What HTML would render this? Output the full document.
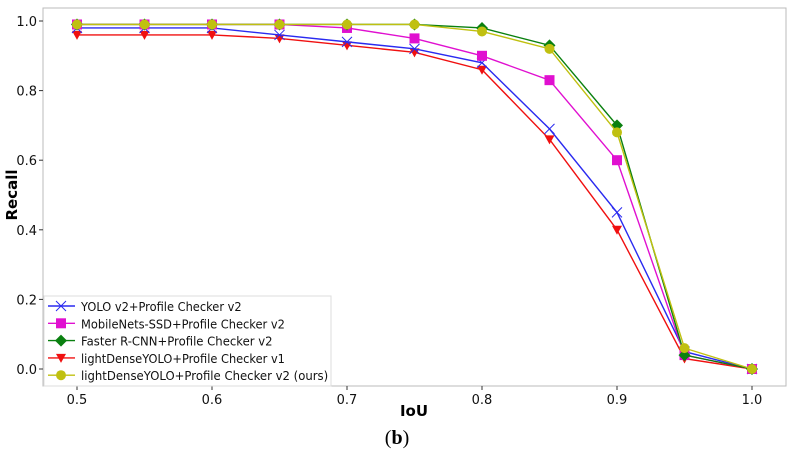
<!DOCTYPE html>
<html><head><meta charset="utf-8"><style>
body{margin:0;background:#fff;width:793px;height:454px;overflow:hidden}
svg{font-family:"DejaVu Sans","Liberation Sans",sans-serif}
</style></head><body>
<svg id="c" width="793" height="454"></svg>
<script>
const xVals=[0.5,0.55,0.6,0.65,0.7,0.75,0.8,0.85,0.9,0.95,1.0];
const yolo=[0.98,0.98,0.98,0.96,0.94,0.92,0.88,0.69,0.45,0.05,0.0];
const mobile=[0.99,0.99,0.99,0.99,0.98,0.95,0.90,0.83,0.60,0.04,0.0];
const faster=[0.99,0.99,0.99,0.99,0.99,0.99,0.98,0.93,0.70,0.04,0.0];
const ldv1=[0.96,0.96,0.96,0.95,0.93,0.91,0.86,0.66,0.40,0.03,0.0];
const ldv2=[0.99,0.99,0.99,0.99,0.99,0.99,0.97,0.92,0.68,0.06,0.0];
const xTicks=[0.5,0.6,0.7,0.8,0.9,1.0];
const yTicks=[0.0,0.2,0.4,0.6,0.8,1.0];
const names=["YOLO v2+Profile Checker v2","MobileNets-SSD+Profile Checker v2","Faster R-CNN+Profile Checker v2","lightDenseYOLO+Profile Checker v1","lightDenseYOLO+Profile Checker v2 (ours)"];
const NS="http://www.w3.org/2000/svg",svg=document.getElementById('c');
const X=v=>77+(v-0.5)*1350, Y=v=>369-v*348;
function el(t,a,p){const e=document.createElementNS(NS,t);for(const k in a)e.setAttribute(k,a[k]);(p||svg).appendChild(e);return e;}
const frame=el('rect',{x:43,y:8,width:743,height:378,fill:'none',stroke:'#bbb','stroke-width':1});


xTicks.forEach(t=>{el('line',{x1:X(t),x2:X(t),y1:386,y2:390,stroke:'#333'});
const tx=el('text',{x:X(t),y:404,'text-anchor':'middle','font-size':13,fill:'#111'});tx.textContent=t.toFixed(1);

});
yTicks.forEach(t=>{el('line',{x1:39,x2:43,y1:Y(t),y2:Y(t),stroke:'#333'});
const tx=el('text',{x:37,y:Y(t)+5,'text-anchor':'end','font-size':13,fill:'#111'});tx.textContent=t.toFixed(1);

});
const xt=el('text',{x:414,y:416,'text-anchor':'middle','font-size':15,'font-weight':'bold'});xt.textContent='IoU';


const yt=el('text',{x:17,y:195,'text-anchor':'middle','font-size':15,'font-weight':'bold',transform:'rotate(-90 17 195)'});yt.textContent='Recall';


const cap=el('text',{x:397,y:444,'text-anchor':'middle','font-size':20,'font-family':'Liberation Serif,serif'});cap.innerHTML='(<tspan font-weight="bold">b</tspan>)';


function marker(g,type,x,y,c){
 if(type==='x'){el('path',{d:`M${x-5} ${y-5}L${x+5} ${y+5}M${x-5} ${y+5}L${x+5} ${y-5}`,stroke:c,'stroke-width':1},g);}
 else if(type==='s')el('rect',{x:x-5,y:y-5,width:10,height:10,fill:c},g);
 else if(type==='d')el('path',{d:`M${x} ${y-6}L${x+6} ${y}L${x} ${y+6}L${x-6} ${y}Z`,fill:c},g);
 else if(type==='v')el('path',{d:`M${x-5} ${y-4}L${x+5} ${y-4}L${x} ${y+5}Z`,fill:c},g);
 else el('circle',{cx:x,cy:y,r:5,fill:c},g);}
const series=[[yolo,'#2a2af0','x'],[mobile,'#e010d0','s'],[faster,'#0a8010','d'],[ldv1,'#f01010','v'],[ldv2,'#c0c010','o']];
const order=[3,0,1,2,4];
order.forEach(i=>{const [d,c,m]=series[i];const g=el('g',{});


el('polyline',{points:d.map((v,j)=>X(xVals[j])+','+Y(v)).join(' '),fill:'none',stroke:c,'stroke-width':1.4},g);
d.forEach((v,j)=>marker(g,m,X(xVals[j]),Y(v),c));});
const lg=el('g',{});


el('rect',{x:44,y:296,width:287,height:90,fill:'#fff','fill-opacity':0.85,stroke:'#ddd'},lg);
series.forEach(([d,c,m],i)=>{const y=306+i*17.3;
const e=el('g',{},lg);


el('line',{x1:48,x2:75,y1:y,y2:y,stroke:c,'stroke-width':1.4},e);marker(e,m,61,y,c);
const t=el('text',{x:81,y:y+5,'font-size':12.5,fill:'#111',textLength:names[i].length*6.18,lengthAdjust:'spacingAndGlyphs'},e);t.textContent=names[i];});
</script>
</body></html>
